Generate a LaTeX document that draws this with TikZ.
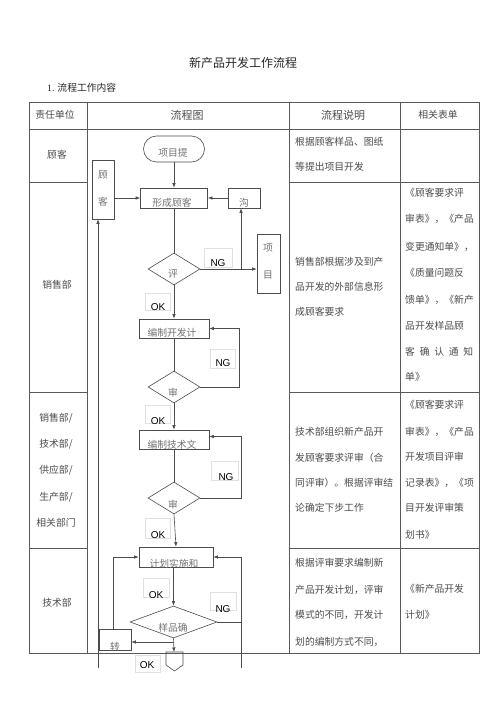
\documentclass[tikz,border=0pt]{standalone}
\usepackage{fontspec}
\setmainfont{Liberation Serif}
\newfontfamily\cjk{Noto Sans CJK SC}
\newfontfamily\lat{Liberation Sans}
\usetikzlibrary{arrows.meta,shapes.geometric}
\begin{document}
\begin{tikzpicture}[x=1pt,y=-1pt,
  t/.style={font=\cjk\fontsize{9.8}{12}\selectfont, text=black!70, inner sep=0pt},
  tl/.style={t, anchor=west},
  ft/.style={font=\cjk\fontsize{9.8}{12}\selectfont, text=black!55, inner sep=0pt},
  ln/.style={draw=black!70, line width=0.6pt},
  tab/.style={draw=black!65, line width=0.6pt},
  arr/.style={ln, -{Latex[length=4.5pt,width=3.5pt]}},
  box/.style={draw=black!70, line width=0.6pt, inner sep=0pt, minimum width=#1},
  dia/.style={diamond, draw=black!70, line width=0.6pt, inner sep=0pt, minimum height=32pt},
  faint/.style={draw=black!12, line width=0.5pt},
  lab/.style={font=\lat\fontsize{10}{12}\selectfont, text=black, inner sep=0pt}]
\useasboundingbox[fill=white] (0,0) rectangle (500,708);

% title
\node[t, text=black!85, font=\cjk\fontsize{12}{14}\selectfont] (title) at (243,63) {新产品开发工作流程};
\node[t, text=black!85, anchor=west] (sub) at (47,88) {{\rmfamily 1.} 流程工作内容};

% table
\draw[tab] (29,102) rectangle (479,653);
\draw[tab] (87,102) -- (87,653);
\draw[tab] (289,102) -- (289,653);
\draw[tab] (400,102) -- (400,653);
\draw[tab] (29,129) -- (479,129);
\foreach \yy in {182,392,548}{
  \draw[tab] (29,\yy) -- (87,\yy);
  \draw[tab] (289,\yy) -- (479,\yy);
}

% header
\node[t] (h1) at (55,115) {责任单位};
\node[t, font=\cjk\fontsize{11}{13}\selectfont] (h2) at (187,115) {流程图};
\node[t, font=\cjk\fontsize{11}{13}\selectfont] (h3) at (343,115) {流程说明};
\node[t] (h4) at (438,115) {相关表单};

% column 1
\node[t] (c1a) at (57,155) {顾客};
\node[t] (c1b) at (57,285) {销售部};
\node[t] (c1c1) at (56,418) {销售部/};
\node[t] (c1c2) at (56,444) {技术部/};
\node[t] (c1c3) at (56,470) {供应部/};
\node[t] (c1c4) at (56,497) {生产部/};
\node[t] (c1c5) at (56,523) {相关部门};
\node[t] (c1d) at (57,603) {技术部};

% column 3
\node[tl] (r1a) at (295,142) {根据顾客样品、图纸};
\node[tl] (r1b) at (295,167) {等提出项目开发};
\node[tl] (r2a) at (295,262) {销售部根据涉及到产};
\node[tl] (r2b) at (295,287) {品开发的外部信息形};
\node[tl] (r2c) at (295,312) {成顾客要求};
\node[tl] (r3a) at (295,432) {技术部组织新产品开};
\node[tl] (r3b) at (295,458) {发顾客要求评审（合};
\node[tl] (r3c) at (295,483) {同评审）。根据评审结};
\node[tl] (r3d) at (295,508) {论确定下步工作};
\node[tl] (r4a) at (295,563) {根据评审要求编制新};
\node[tl] (r4b) at (295,590) {产品开发计划，评审};
\node[tl] (r4c) at (295,615) {模式的不同，开发计};
\node[tl] (r4d) at (295,642) {划的编制方式不同，};

% column 4
\node[tl] (f2a) at (405,193) {《顾客要求评};
\node[tl] (f2b) at (405,219) {审表》，《产品};
\node[tl] (f2c) at (405,247) {\makebox[68pt][s]{变更通知单》\hfill{}，}};
\node[tl] (f2d) at (405,273) {《质量问题反};
\node[tl] (f2e) at (405,300) {馈单》，《新产};
\node[tl] (f2f) at (405,326) {品开发样品顾};
\node[tl] (f2g) at (405,352) {\makebox[68pt][s]{客\hfill{}确\hfill{}认\hfill{}通\hfill{}知}};
\node[tl] (f2h) at (405,377) {单》};
\node[tl] (f3a) at (405,405) {《顾客要求评};
\node[tl] (f3b) at (405,432) {审表》，《产品};
\node[tl] (f3c) at (405,457) {开发项目评审};
\node[tl] (f3d) at (405,483) {记录表》，《项};
\node[tl] (f3e) at (405,508) {目开发评审策};
\node[tl] (f3f) at (405,535) {划书》};
\node[tl] (f4a) at (405,589) {《新产品开发};
\node[tl] (f4b) at (405,615) {计划》};

% faint label boxes
\draw[faint] (204,248) rectangle (232,267);
\draw[faint] (145,293) rectangle (170,310);
\draw[faint] (210,349) rectangle (235,368);
\draw[faint] (145,405) rectangle (170,423);
\draw[faint] (211,461) rectangle (238,480);
\draw[faint] (145,518) rectangle (170,538);
\draw[faint] (143,578) rectangle (169,597);
\draw[faint] (210,592) rectangle (236,610);
\draw[faint] (135,655) rectangle (160,672);

% flowchart nodes
\node[box=61pt, minimum height=26pt, rounded corners=13pt] (start) at (174,149) {};
\node[ft] (startt) at (173,153) {项目提};
\node[box=67pt, minimum height=20pt] (form) at (174,198) {};
\node[ft] (formt) at (172,203) {形成顾客};
\node[box=22pt, minimum height=59pt] (gk) at (103,189.5) {};
\node[ft] (gkt1) at (103,175) {顾};
\node[ft] (gkt2) at (103,202) {客};
\node[box=32pt, minimum height=20pt] (gou) at (244,198) {};
\node[ft] (gout) at (244,203) {沟};
\node[box=23pt, minimum height=59pt] (xm) at (268.5,263.5) {};
\node[ft] (xmt1) at (268,248) {项};
\node[ft] (xmt2) at (268,275) {目};
\node[dia, minimum width=52pt] (d1) at (174,269) {};
\node[ft] (d1t) at (173,274) {评};
\node[box=70pt, minimum height=19pt] (b2) at (174,328.5) {};
\node[ft] (b2t) at (172,333) {编制开发计};
\node[dia, minimum width=52pt] (d2) at (174,387) {};
\node[ft] (d2t) at (173,393) {审};
\node[box=70pt, minimum height=19pt] (b3) at (174,439.5) {};
\node[ft] (b3t) at (172,445) {编制技术文};
\node[dia, minimum width=52pt] (d3) at (174,498) {};
\node[ft] (d3t) at (173,505) {审};
\node[box=74pt, minimum height=20pt] (b4) at (176,557) {};
\node[ft] (b4t) at (174,564) {计划实施和};
\node[dia, minimum width=87pt] (d4) at (173.5,622) {};
\node[ft] (d4t) at (173,628) {样品确};
\node[box=32pt, minimum height=21pt] (zh) at (115,639.5) {};
\node[ft] (zht) at (115,647) {转};
\draw[ln] (166,652) -- (183,652) -- (183,665) -- (174.5,671) -- (166,665) -- cycle;
\coordinate (pt) at (174,652);

% labels
\node[lab] (ng1) at (218,263) {NG};
\node[lab] (ok1) at (158,307) {OK};
\node[lab] (ng2) at (223,363) {NG};
\node[lab] (ok2) at (158,421) {OK};
\node[lab] (ng3) at (226,477) {NG};
\node[lab] (ok3) at (158,535) {OK};
\node[lab] (ok4) at (156,595) {OK};
\node[lab] (ng4) at (223,609) {NG};
\node[lab] (ok5) at (147,665) {OK};

% connectors
\draw[arr] (start.south) -- (form.north);
\draw[arr] (gk.east |- form.west) -- (form.west);
\draw[arr] (gou.west) -- (form.east);
\draw[ln] (form.south) -- (d1.north);
\draw[arr] (d1.east) -- (xm.west |- d1.east);
\coordinate (j1) at (241,269);
\draw[arr] (j1) -- (gou.south -| j1);
\draw[arr] (d1.south) -- (b2.north);
\draw[ln] (b2.south) -- (d2.north);
\draw[arr] (d2.east) -- ++(39,0) |- (b2.east);
\draw[arr] (d2.south) -- (b3.north);
\draw[ln] (b3.south) -- (d3.north);
\draw[arr] (d3.east) -- ++(41,0) |- ([yshift=3pt]b3.east);
\draw[arr] (d3.south) -- (b4.north);
\draw[arr] (b4.south -| d4.north) -- (d4.north);
\coordinate (j4) at (241,622);
\coordinate (br) at (241,668);
\draw[arr] (d4.east) -- (j4) |- (b4.east);
\draw[ln] (j4) -- (br);
\draw[arr] (d4.south) -- (pt);
\coordinate (sp) at (174,642);
\draw[arr] (sp) -- (zh.east |- sp);
\draw[arr] ([xshift=-2pt]zh.north) |- (b4.west);
\coordinate (bl) at (98,668);
\draw[arr] (bl) -- (bl |- gk.south);
\end{tikzpicture}
\end{document}
